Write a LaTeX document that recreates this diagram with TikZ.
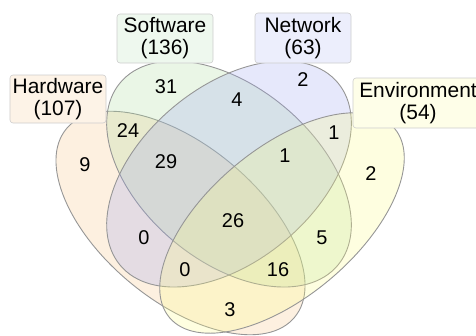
\documentclass[tikz,border=0pt]{standalone}
\usepackage{fontspec}
\setmainfont{Liberation Sans}
\usepackage{xcolor}
\definecolor{hwfill}{RGB}{247,195,131}
\definecolor{swfill}{RGB}{171,219,155}
\definecolor{nwfill}{RGB}{155,163,239}
\definecolor{envfill}{RGB}{251,251,131}
\definecolor{rim}{RGB}{150,150,150}
\definecolor{boxrim}{RGB}{205,205,205}
\definecolor{hwbox}{RGB}{253,243,231}
\definecolor{swbox}{RGB}{238,248,238}
\definecolor{nwbox}{RGB}{236,238,252}
\definecolor{envbox}{RGB}{254,254,232}

\begin{document}
\begin{tikzpicture}[x=1bp, y=1bp, line cap=round, line join=round,
    set/.style={draw=rim, line width=0.9bp, fill opacity=0.25},
    tag/.style={draw=boxrim, rounded corners=3bp, line width=0.6bp, align=center,
        minimum width=96bp, minimum height=48bp, inner sep=0pt,
        font=\fontsize{21}{22}\selectfont},
    count/.style={font=\fontsize{20}{24}\selectfont}]
    \clip (0,0) rectangle (476,335);
    % the four sets
    \filldraw [set, fill=hwfill, shift={(180.5,112)}, rotate=-39.5] (0,0) ellipse (148 and 78);
    \filldraw [set, fill=swfill, shift={(229,161)}, rotate=-40] (0,0) ellipse (142 and 87);
    \filldraw [set, fill=nwfill, shift={(229,161)}, rotate=40] (0,0) ellipse (142 and 87);
    \filldraw [set, fill=envfill, shift={(282,112)}, rotate=40] (0,0) ellipse (147 and 74);
    % set names
    \node [tag, fill=hwbox] (hwtag) at (58,236) {Hardware\\(107)};
    \node [tag, fill=swbox, minimum height=49bp] (swtag) at (165,296.5) {Software\\(136)};
    \node [tag, fill=nwbox, minimum height=50bp] (nwtag) at (303,297) {Network\\(63)};
    \node [tag, fill=envbox, minimum width=130bp, minimum height=50bp] (envtag) at (418,232) {Environment\\(54)};
    % region counts
    \node [count] (hwonly) at (85,170) {9};
    \node [count] (swonly) at (166,248) {31};
    \node [count] (nwonly) at (303,255) {2};
    \node [count] (envonly) at (371,161) {2};
    \node [count] (hwsw) at (128,204) {24};
    \node [count] (swnw) at (237,235) {4};
    \node [count] (nwenv) at (334,202) {1};
    \node [count] (hwnw) at (144,97) {0};
    \node [count] (swenv) at (322,97) {5};
    \node [count] (hwenv) at (230,25) {3};
    \node [count] (hwswnw) at (166,173) {29};
    \node [count] (swnwenv) at (285,179) {1};
    \node [count] (hwnwenv) at (185,65) {0};
    \node [count] (hwswenv) at (278,65) {16};
    \node [count] (allfour) at (233,114) {26};
\end{tikzpicture}
\end{document}
